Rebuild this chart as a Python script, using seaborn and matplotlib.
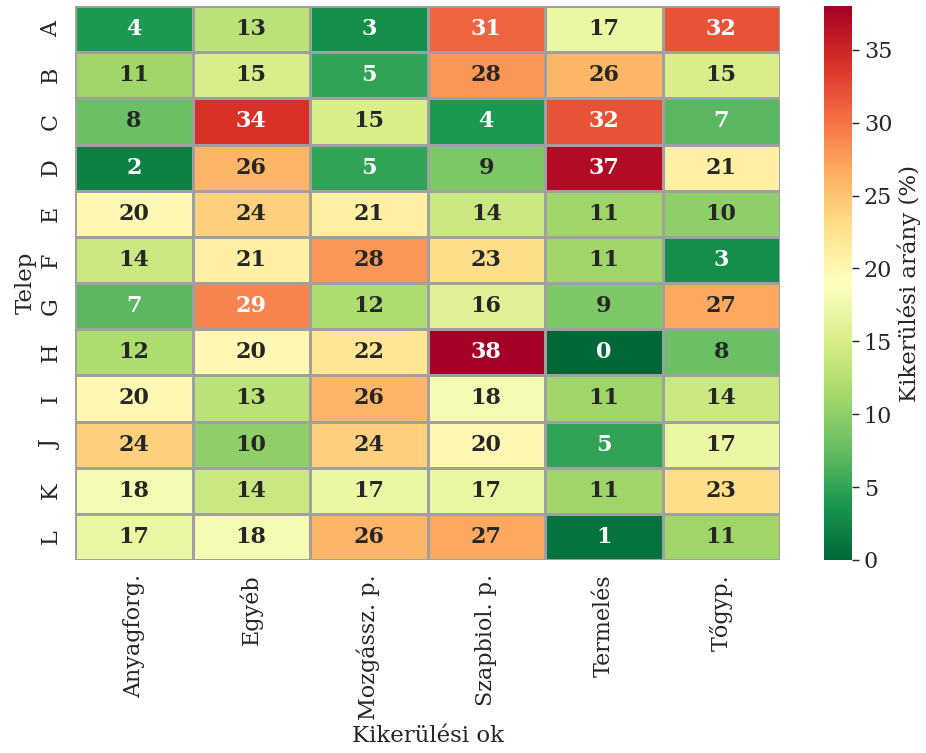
import numpy as np
import pandas as pd
import matplotlib
matplotlib.use("Agg")
import matplotlib.pyplot as plt
import seaborn as sns

sites = ["A", "B", "C", "D", "E", "F", "G", "H", "I", "J", "K", "L"]
reasons = ["Anyagforg.", "Egyéb", "Mozgássz. p.", "Szapbiol. p.", "Termelés", "Tőgyp."]

anyagforg = [4, 11, 8, 2, 20, 14, 7, 12, 20, 24, 18, 17]
egyeb = [13, 15, 34, 26, 24, 21, 29, 20, 13, 10, 14, 18]
mozgassz = [3, 5, 15, 5, 21, 28, 12, 22, 26, 24, 17, 26]
szapbiol = [31, 28, 4, 9, 14, 23, 16, 38, 18, 20, 17, 27]
termeles = [17, 26, 32, 37, 11, 11, 9, 0, 11, 5, 11, 1]
togyp = [32, 15, 7, 21, 10, 3, 27, 8, 14, 17, 23, 11]

df = pd.DataFrame(
    {r: v for r, v in zip(reasons, [anyagforg, egyeb, mozgassz, szapbiol, termeles, togyp])},
    index=sites,
)

sns.set_theme(style="white")
plt.rcParams["font.family"] = ["DejaVu Serif", "DejaVu Sans"]

fig = plt.figure(figsize=(9.26, 7.53), dpi=100)
ax = fig.add_axes([75 / 926, 1 - 560 / 753, 705 / 926, 554 / 753])
cax = fig.add_axes([824 / 926, 1 - 560 / 753, 28 / 926, 554 / 753])

sns.heatmap(
    df, ax=ax, cbar_ax=cax, cmap="RdYlGn_r", vmin=0,
    annot=True, fmt="d", annot_kws={"fontsize": 16, "fontweight": "bold"},
    linewidths=0.8, linecolor="#a0a0a0",
    cbar_kws={"label": "Kikerülési arány (%)"},
)

ax.set_xlabel("Kikerülési ok", fontsize=16.5, labelpad=4)
ax.set_ylabel("Telep", fontsize=16.5, labelpad=2)
ax.tick_params(axis="x", labelsize=16, rotation=90, pad=4)
ax.tick_params(axis="y", labelsize=16, rotation=90)
for t in ax.get_yticklabels():
    t.set_va("center")

cax.tick_params(labelsize=16, length=5, width=1, left=False, right=True)
cax.yaxis.label.set_size(16.5)

fig.savefig("out.png", dpi=100)
